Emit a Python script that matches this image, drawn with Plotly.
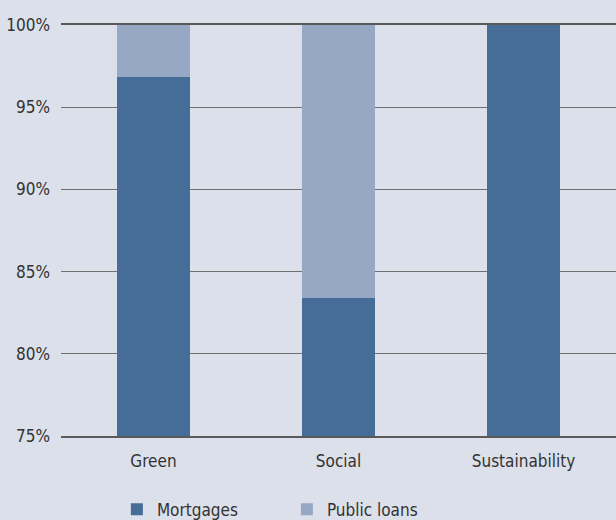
import plotly.graph_objects as go

categories = ["Green", "Social", "Sustainability"]
mortgages = [96.85, 83.4, 100.0]
public_loans = [3.15, 16.6, 0.0]
y_ticks = [75, 80, 85, 90, 95, 100]
y_tick_labels = ["75%", "80%", "85%", "90%", "95%", "100%"]

BG = "#dce0ea"
FONT = "Liberation Sans Narrow, DejaVu Sans Condensed, sans-serif"

fig = go.Figure()
fig.add_trace(go.Bar(name="Mortgages", x=categories, y=mortgages,
                     marker=dict(color="#466c98", line=dict(width=0))))
fig.add_trace(go.Bar(name="Public loans", x=categories, y=public_loans,
                     marker=dict(color="#97a8c4", line=dict(width=0))))

fig.update_layout(
    barmode="stack",
    bargap=0.61,
    width=616, height=520,
    paper_bgcolor=BG, plot_bgcolor=BG,
    margin=dict(l=61, r=0, t=25, b=84),
    font=dict(family=FONT, size=17, color="#333333"),
    showlegend=True,
    legend=dict(orientation="h", x=0.407, xanchor="center", yref="container",
                y=0.02, yanchor="middle", entrywidth=125, entrywidthmode="pixels",
                traceorder="normal",
                bgcolor="rgba(0,0,0,0)", font=dict(size=17, color="#333333"),
                itemclick=False),
)
fig.update_yaxes(range=[75, 100], tickvals=y_ticks, ticktext=y_tick_labels,
                 showgrid=True, gridcolor="#707070", gridwidth=1.2,
                 zeroline=False, ticks="", ticklabelstandoff=10,
                 tickfont=dict(size=17, color="#333333"))
fig.update_xaxes(showgrid=False, ticks="", showline=True, mirror=True,
                 linecolor="#5a5a5a", linewidth=1.5, layer="above traces",
                 ticklabelstandoff=9,
                 tickfont=dict(size=17, color="#333333"))

fig.write_html("out.html")
